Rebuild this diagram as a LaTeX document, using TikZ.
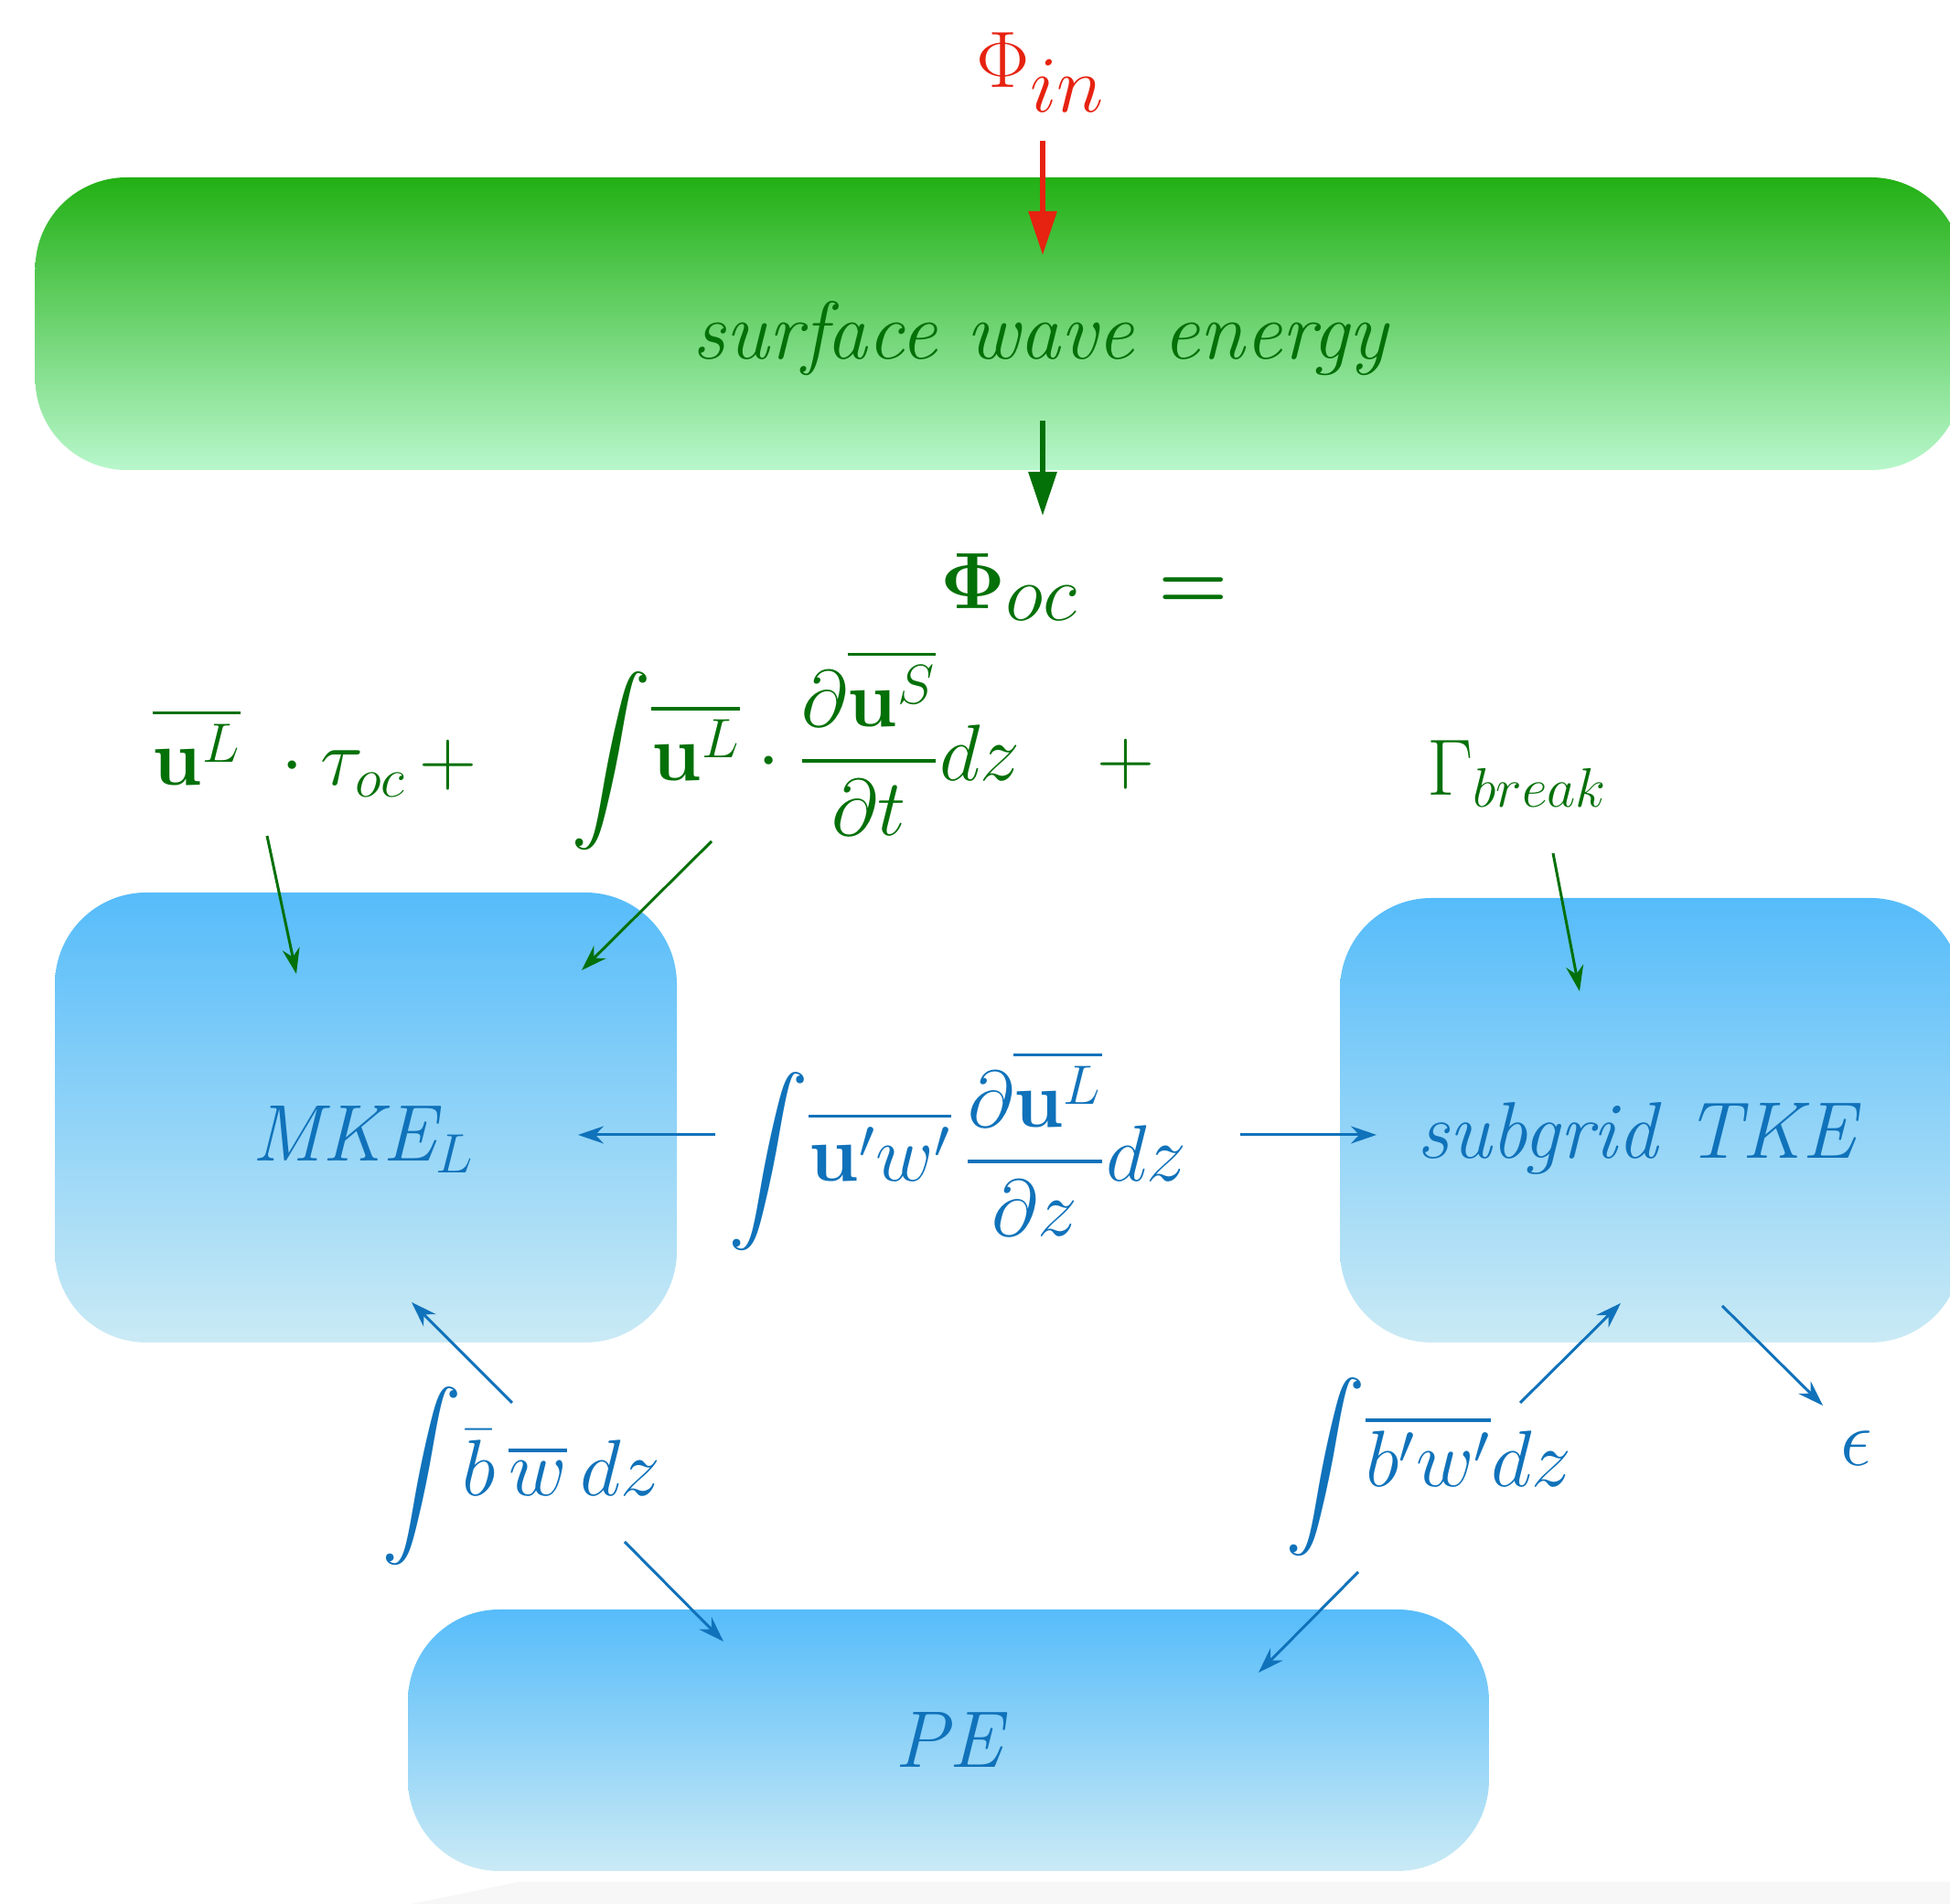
\documentclass[tikz,border=0pt]{standalone}
\usepackage{amsmath,amssymb,bm}
\usepackage{tikz}
\usetikzlibrary{arrows.meta,positioning,calc}
\definecolor{wavegreen}{RGB}{4,112,8}
\definecolor{fluxred}{RGB}{230,34,16}
\definecolor{oceanblue}{RGB}{16,114,186}
\definecolor{greentop}{RGB}{34,176,20}
\definecolor{greenbot}{RGB}{184,247,204}
\definecolor{bluetop}{RGB}{86,188,250}
\definecolor{bluebot}{RGB}{202,234,245}
\newcommand{\eqsize}{\fontsize{25}{30}\selectfont}
\newcommand{\fluxsize}{\fontsize{36}{42}\selectfont}

\begin{document}
\begin{tikzpicture}[>=Stealth,
  wavebox/.style={rounded corners=1cm,top color=greentop,bottom color=greenbot,inner sep=0pt},
  oceanbox/.style={rounded corners=1cm,top color=bluetop,bottom color=bluebot,inner sep=0pt},
  greenterm/.style={text=wavegreen,font=\eqsize,inner sep=0pt},
  blueterm/.style={text=oceanblue,font=\eqsize,inner sep=0pt},
  thinarrow/.style={->,line width=0.85pt,>={Stealth[length=2.8mm,width=1.9mm]}},
  fatarrow/.style={->,line width=1.7pt,>={Triangle[length=4.8mm,width=3mm]}}]
  \useasboundingbox (0,0) rectangle (21.32,20.82);
  \clip (0,0) rectangle (21.32,20.82);
  \fill[gray!6] (4.5,0) -- (5.66,0.24) -- (21.32,0.24) -- (21.32,0) -- cycle;
  % boxes
  \node[wavebox,minimum width=21.07cm,minimum height=3.2cm] (swe) at (10.92,17.28) {};
  \node[oceanbox,minimum width=6.8cm,minimum height=4.92cm] (mke) at (4.00,8.60) {};
  \node[oceanbox,minimum width=6.8cm,minimum height=4.86cm] (tke) at (18.05,8.57) {};
  \node[oceanbox,minimum width=11.82cm,minimum height=2.86cm] (pe) at (10.37,1.79) {};
  \node[greenterm,font=\fontsize{25.5}{30}\selectfont\itshape] (swelabel) at (11.37,17.12) {surface wave energy};
  \node[blueterm,font=\eqsize\itshape] (mkelabel) at (3.97,8.36) {MKE$_L$};
  \node[blueterm,font=\eqsize\itshape] (tkelabel) at (17.89,8.37) {subgrid TKE};
  \node[blueterm,font=\eqsize\itshape] (pelabel) at (10.37,1.79) {PE};
  % wave fluxes
  \node[text=fluxred,font=\fluxsize,inner sep=0pt] (phiin) at (11.38,20.03) {$\Phi_{in}$};
  \node[greenterm,font=\fluxsize] (phioc) at (11.86,14.40) {$\bm{\Phi}_{oc}\enspace\bm{=}$};
  \node[greenterm] (stress) at (3.44,12.59) {$\overline{\mathbf{u}^L}\;\cdot\tau_{oc}\,+$};
  \node[greenterm] (stokes) at (8.70,12.62) {$\displaystyle\int\!\overline{\mathbf{u}^L}\cdot\frac{\partial\overline{\mathbf{u}^S}}{\partial t}dz$};
  \node[greenterm] (plus) at (12.31,12.46) {$+$};
  \node[greenterm] (gbreak) at (16.59,12.36) {$\Gamma_{break}$};
  % ocean exchanges
  \node[blueterm] (shear) at (10.47,8.24) {$\displaystyle\int\!\overline{\mathbf{u}'w'}\,\frac{\partial\overline{\mathbf{u}^L}}{\partial z}dz$};
  \node[blueterm] (meanbuoy) at (5.70,4.68) {$\displaystyle\int\!\bar{b}\,\overline{w}\,dz$};
  \node[blueterm] (turbbuoy) at (15.62,4.78) {$\displaystyle\int\!\overline{b'w'}dz$};
  \node[blueterm,font=\fontsize{28}{32}\selectfont] (eps) at (20.30,4.98) {$\epsilon$};
  % arrow ends
  \coordinate (redtail) at (11.40,19.28);
  \coordinate (redtip) at (11.40,18.03);
  \coordinate (greentail) at (11.40,16.22);
  \coordinate (greentip) at (11.40,15.18);
  \coordinate (stressout) at (2.92,11.68);
  \coordinate (stressin) at (3.24,10.17);
  \coordinate (stokesout) at (7.78,11.62);
  \coordinate (stokesin) at (6.36,10.21);
  \coordinate (breakout) at (16.98,11.49);
  \coordinate (breakin) at (17.27,9.98);
  \coordinate (shearleft) at (7.82,8.41);
  \coordinate (mkein) at (6.32,8.41);
  \coordinate (shearright) at (13.56,8.41);
  \coordinate (tkein) at (15.05,8.41);
  \coordinate (meanup) at (5.60,5.48);
  \coordinate (mkelow) at (4.50,6.58);
  \coordinate (meandown) at (6.83,3.96);
  \coordinate (peleft) at (7.91,2.87);
  \coordinate (turbup) at (16.62,5.48);
  \coordinate (tkelow) at (17.72,6.57);
  \coordinate (turbdown) at (14.85,3.63);
  \coordinate (peright) at (13.76,2.53);
  \coordinate (tkeout) at (18.83,6.54);
  \coordinate (epsin) at (19.93,5.45);
  \draw[fatarrow,fluxred] (redtail) -- (redtip);
  \draw[fatarrow,wavegreen] (greentail) -- (greentip);
  \draw[thinarrow,wavegreen] (stressout) -- (stressin);
  \draw[thinarrow,wavegreen] (stokesout) -- (stokesin);
  \draw[thinarrow,wavegreen] (breakout) -- (breakin);
  \draw[thinarrow,oceanblue] (shearleft) -- (mkein);
  \draw[thinarrow,oceanblue] (shearright) -- (tkein);
  \draw[thinarrow,oceanblue] (meanup) -- (mkelow);
  \draw[thinarrow,oceanblue] (meandown) -- (peleft);
  \draw[thinarrow,oceanblue] (turbup) -- (tkelow);
  \draw[thinarrow,oceanblue] (turbdown) -- (peright);
  \draw[thinarrow,oceanblue] (tkeout) -- (epsin);
\end{tikzpicture}
\end{document}
